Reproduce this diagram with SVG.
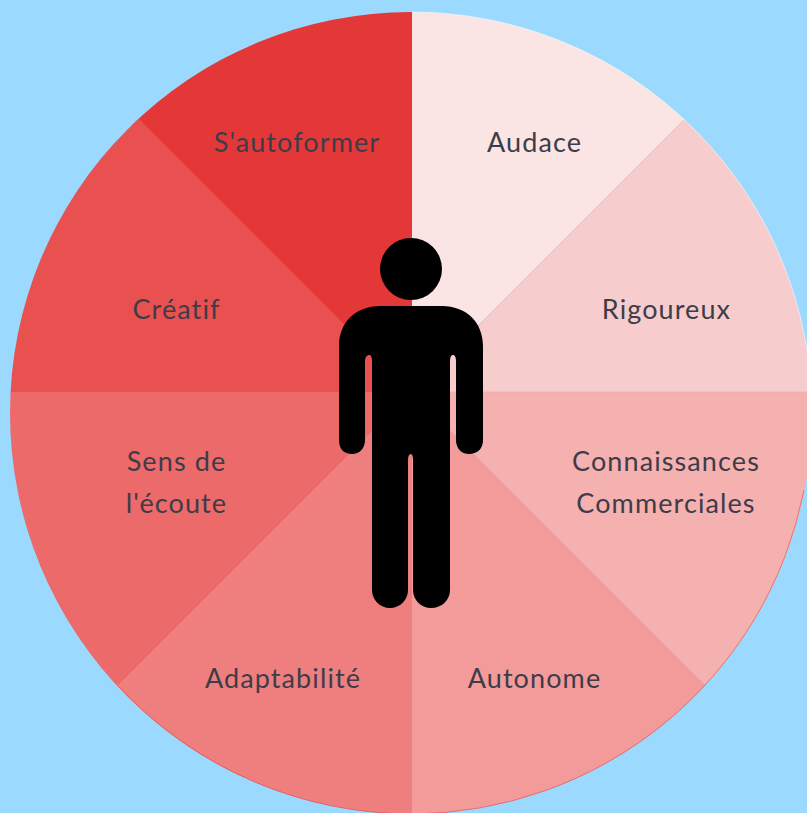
<svg xmlns="http://www.w3.org/2000/svg" width="807" height="813" viewBox="0 0 807 813">
<style>
.t{font-family:"Lato","Open Sans","Liberation Sans",sans-serif;font-size:27px;letter-spacing:1.1px;fill:#3d3c48;text-anchor:middle}
.b{stroke:#f5a3a3;stroke-width:1;stroke-opacity:.6;fill:none}
.edge{fill:none;stroke-width:.7;stroke-opacity:.75}
</style>
<defs><clipPath id="c"><circle cx="411" cy="413" r="401"/></clipPath></defs>
<rect width="807" height="813" fill="#9bd9ff"/>
<g clip-path="url(#c)">
<g id="autoformer"><path d="M412 392L412 0L0 0Z" fill="#e43838"/><text class="t" x="297" y="152">S'autoformer</text></g>
<g id="creatif"><path d="M412 392L0 -20L0 392Z" fill="#e95050"/><text class="t" x="176.500" y="319">Créatif</text></g>
<g id="ecoute"><path d="M412 392L0 392L0 804Z" fill="#ec6a6a"/><text class="t" x="176.500" y="471">Sens de</text><text class="t" x="176.500" y="513">l'écoute</text></g>
<g id="adaptabilite"><path d="M412 392L0 804L0 820L412 820Z" fill="#ef7f7f"/><text class="t" x="283" y="688">Adaptabilité</text></g>
<g id="autonome"><path d="M412 392L412 820L840 820Z" fill="#f39b9b"/><text class="t" x="534.500" y="688">Autonome</text></g>
<g id="connaissances"><path d="M412 392L840 820L840 392Z" fill="#f5b0b0"/><text class="t" x="666" y="471">Connaissances</text><text class="t" x="666" y="513">Commerciales</text></g>
<g id="rigoureux"><path d="M412 392L840 392L840 -36Z" fill="#f7cccc"/><text class="t" x="666.500" y="319">Rigoureux</text></g>
<g id="audace"><path d="M412 392L840 -36L412 -36Z" fill="#fae4e4"/><text class="t" x="534.500" y="152">Audace</text></g>
</g>
<g id="connectors">
<path class="b" d="M412 392L683 121M412 392L807 392M412 392L706 686"/>
<path class="edge" stroke="#ffffff" d="M412 12A401 401 0 0 1 807 350"/>
<path class="edge" stroke="#e53935" d="M804 490A401 401 0 0 1 411 814A401 401 0 0 1 118 686"/>
</g>
<g id="person" fill="#000">
<circle cx="411" cy="269" r="31"/>
<path d="M380 306H442C466 306 483 322 483 346V440C483 449 477 454 469 454C461 454 456 448 456 440V362C456 357 455 355 453 355C451 355 450 357 450 362V590C450 600 442 608 431 608C421 608 413 600 413 590V460C413 456 412 454 411 454C409 454 408 456 408 460V590C408 600 400 608 390 608C380 608 372 600 372 590V362C372 357 371 355 369 355C367 355 365 357 365 362V440C365 448 360 454 352 454C344 454 339 449 339 440V346C339 322 356 306 380 306Z"/>
</g>
</svg>
